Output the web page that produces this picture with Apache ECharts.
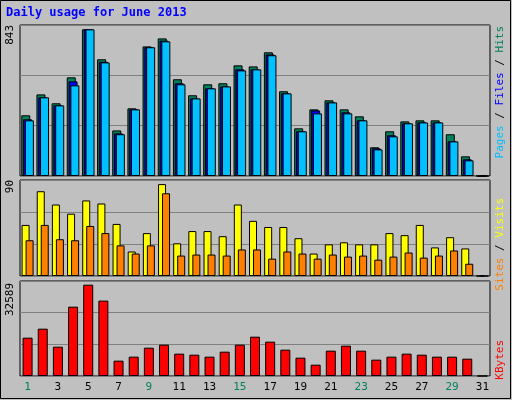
<!DOCTYPE html><html><head><meta charset="utf-8">
<script src="https://cdn.jsdelivr.net/npm/echarts@6/dist/echarts.min.js"></script>
<style>html,body{margin:0;padding:0;background:#c0c0c0}#c{width:512px;height:400px}</style></head><body><div id="c"></div>
<script>
const days = Array.from({length:31},(_,i)=>String(i+1));
const weekend = ['1','2','8','9','15','16','22','23','29','30'];
const hits  = [349,469,418,567,843,671,262,389,745,791,556,464,527,533,636,630,711,487,274,383,435,383,343,165,257,314,320,320,240,113,0];
const files = [326,452,406,544,843,657,245,383,740,778,533,446,504,515,613,613,699,475,257,377,423,366,320,159,234,303,308,308,199,96,0];
const pages = [320,452,406,521,843,653,240,383,740,774,527,446,504,515,607,613,694,475,257,360,423,360,320,153,228,303,308,308,199,90,0];
const visits= [50,83,70,61,74,71,51,24,42,90,32,44,44,39,70,54,48,48,37,22,31,33,31,31,42,40,50,28,38,27,0];
const sites = [35,50,36,35,49,42,30,22,30,81,20,21,21,20,26,26,17,24,22,17,21,19,20,16,19,23,18,20,25,12,0];
const kbytes= [13675,16885,10465,24735,32589,26900,5470,6900,10100,11180,7970,7610,6900,8680,11180,14030,12250,9390,6540,4040,9040,10820,9040,5830,6900,7970,7610,6900,6900,6180,0];
const maxLabels = ['843','90','32589'];
const chart = echarts.init(document.getElementById('c'));
const grids = [{top:25,height:151},{top:180,height:96},{top:281,height:95}];
const maxes = [868,94,33900];
const mono = 'DejaVu Sans Mono';
const bs = {borderColor:'#000',borderWidth:1};
chart.setOption({
  backgroundColor:'#c0c0c0', animation:false,
  grid: grids.map(g=>({left:20,right:22,top:g.top,height:g.height,show:true,backgroundColor:'#c0c0c0',borderColor:'#000',borderWidth:1})),
  xAxis: [0,1,2].map(i=>({type:'category',gridIndex:i,data:days,axisTick:{show:false},axisLine:{show:false},
    axisLabel:{show:i===2,fontFamily:mono,fontSize:11,margin:6,color:(v)=>weekend.includes(v)?'#00805c':'#000'}})),
  yAxis: [0,1,2].map(i=>({type:'value',gridIndex:i,min:0,max:maxes[i],interval:maxes[i]/3,axisLabel:{show:false},axisLine:{show:false},axisTick:{show:false},
    splitLine:{lineStyle:{color:'#808080',width:1}}})),
  series:[
    {type:'bar',xAxisIndex:0,yAxisIndex:0,data:hits,barWidth:9,itemStyle:{color:'#00805c',...bs},barGap:'-80%'},
    {type:'bar',xAxisIndex:0,yAxisIndex:0,data:files,barWidth:9,itemStyle:{color:'#0000ff',...bs},barGap:'-80%'},
    {type:'bar',xAxisIndex:0,yAxisIndex:0,data:pages,barWidth:9,itemStyle:{color:'#00c0ff',...bs},barGap:'-80%'},
    {type:'bar',xAxisIndex:1,yAxisIndex:1,data:visits,barWidth:8,itemStyle:{color:'#ffff00',...bs},barGap:'-50%'},
    {type:'bar',xAxisIndex:1,yAxisIndex:1,data:sites,barWidth:8,itemStyle:{color:'#ff8000',...bs},barGap:'-50%'},
    {type:'bar',xAxisIndex:2,yAxisIndex:2,data:kbytes,barWidth:10,itemStyle:{color:'#ff0000',...bs}}
  ],
  graphic:[
    {type:'rect',shape:{x:0.5,y:0.5,width:510,height:398},style:{fill:'none',stroke:'#000',lineWidth:1},silent:true},
    {type:'text',left:6,top:7,style:{text:'Daily usage for June 2013',fill:'#0000ff',font:'bold 12px '+mono}},
    {type:'text',x:10,y:25,rotation:Math.PI/2,style:{text:maxLabels[0],align:'right',verticalAlign:'middle',fill:'#000',font:'11px '+mono}},
    {type:'text',x:10,y:180,rotation:Math.PI/2,style:{text:maxLabels[1],align:'right',verticalAlign:'middle',fill:'#000',font:'11px '+mono}},
    {type:'text',x:10,y:283,rotation:Math.PI/2,style:{text:maxLabels[2],align:'right',verticalAlign:'middle',fill:'#000',font:'11px '+mono}},
    {type:'text',x:500,y:26,rotation:Math.PI/2,style:{text:'{p|Pages}{s| / }{f|Files}{s| / }{h|Hits}',align:'right',verticalAlign:'middle',font:'11px '+mono,
      rich:{p:{fill:'#00c0ff',font:'11px '+mono},f:{fill:'#0000ff',font:'11px '+mono},h:{fill:'#00805c',font:'11px '+mono},s:{fill:'#000',font:'11px '+mono}}}},
    {type:'text',x:500,y:198,rotation:Math.PI/2,style:{text:'{o|Sites}{s| / }{y|Visits}',align:'right',verticalAlign:'middle',font:'11px '+mono,
      rich:{o:{fill:'#ff8000',font:'11px '+mono},y:{fill:'#ffff00',font:'11px '+mono},s:{fill:'#000',font:'11px '+mono}}}},
    {type:'text',x:500,y:340,rotation:Math.PI/2,style:{text:'KBytes',align:'right',verticalAlign:'middle',fill:'#ff0000',font:'11px '+mono}}
  ]
});
</script></body></html>
